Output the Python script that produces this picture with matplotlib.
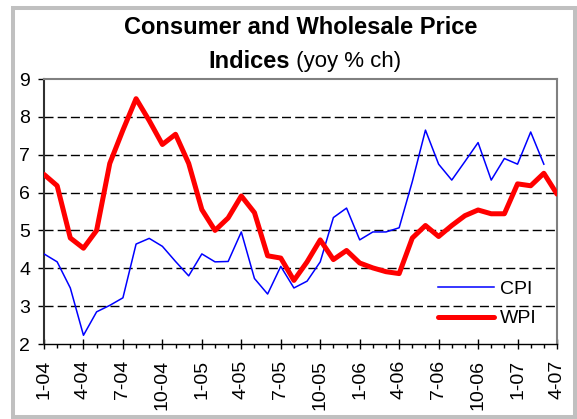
import numpy as np
import matplotlib
matplotlib.use('Agg')
import matplotlib.pyplot as plt
from matplotlib.patches import Rectangle

plt.rcParams['font.family'] = ['Liberation Sans', 'DejaVu Sans']

# monthly yoy % change, Jan 2004 onward
wpi = [6.48, 6.18, 4.80, 4.53, 5.00, 6.77, 7.65, 8.48, 7.90, 7.27,
       7.54, 6.77, 5.55, 5.00, 5.33, 5.91, 5.47, 4.33, 4.27, 3.68,
       4.17, 4.75, 4.23, 4.47, 4.14, 4.01, 3.91, 3.86, 4.80, 5.13,
       4.84, 5.13, 5.39, 5.54, 5.44, 5.44, 6.23, 6.18, 6.51, 5.96]
cpi = [4.38, 4.17, 3.48, 2.23, 2.85, 3.02, 3.22, 4.64, 4.79, 4.58,
       4.18, 3.80, 4.38, 4.17, 4.18, 4.96, 3.73, 3.32, 4.05, 3.48,
       3.66, 4.17, 5.34, 5.59, 4.75, 4.96, 4.96, 5.07, 6.29, 7.65,
       6.75, 6.33, 6.82, 7.32, 6.33, 6.90, 6.75, 7.60, 6.75]
tick_labels = ['1-04', '4-04', '7-04', '10-04', '1-05', '4-05', '7-05',
               '10-05', '1-06', '4-06', '7-06', '10-06', '1-07', '4-07']
yticks = [2, 3, 4, 5, 6, 7, 8, 9]

fig = plt.figure(figsize=(5.77, 4.19), dpi=100)
ax = fig.add_axes([44/577, 75/419, 513/577, 265/419])

# grey outer frame
fig.patches.append(Rectangle((13/577, 2/419), 562/577, 409/419,
                             transform=fig.transFigure, fill=False,
                             edgecolor='#c0c0c0', lw=2.9))

x_w = np.arange(len(wpi))
x_c = np.arange(len(cpi))

ax.hlines(yticks[1:-1], 0, len(wpi) - 1, colors='black', lw=1,
          linestyles=(0, (6.5, 3)), zorder=1)
ax.plot(x_c, cpi, color='#0000ff', lw=1.1, label='CPI', zorder=3)
ax.plot(x_w, wpi, color='#ff0000', lw=3.6, label='WPI', zorder=3,
        solid_joinstyle='round', solid_capstyle='round')

ax.set_xlim(0, len(wpi) - 1)
ax.set_ylim(yticks[0], yticks[-1])
ax.set_yticks(yticks)
ax.set_xticks(np.arange(0, len(wpi), 3))
ax.set_xticks(np.arange(len(wpi)), minor=True)
ax.set_xticklabels(tick_labels, rotation=90, va='top')

ax.tick_params(axis='y', direction='out', length=4, width=1, pad=6,
               labelsize=14)
ax.tick_params(axis='x', which='major', direction='inout', length=7,
               width=1, pad=8, labelsize=14)
ax.tick_params(axis='x', which='minor', direction='out', length=3, width=1)

for s in ['top', 'right']:
    ax.spines[s].set_color('#808080')
    ax.spines[s].set_linewidth(1.5)
ax.spines['left'].set_color('#303030')
ax.spines['left'].set_linewidth(1.5)
ax.spines['bottom'].set_color('black')
ax.spines['bottom'].set_linewidth(1)

ax.legend(loc='center left', bbox_to_anchor=(438/577, 1 - 304/419),
          bbox_transform=fig.transFigure, frameon=False, fontsize=14,
          handlelength=2.9, handletextpad=0.3, labelspacing=0.6,
          borderpad=0, borderaxespad=0)

# two-line title, second line partly bold
fig.text(301/577, 1 - 28/419, 'Consumer and Wholesale Price',
         ha='center', va='center', fontsize=17, fontweight='bold')
t2 = fig.text(208/577, 1 - 61/419, 'Indices', ha='left', va='center',
              fontsize=17, fontweight='bold')
ax.annotate(' (yoy % ch)', xy=(1, 0.5), xycoords=t2, va='center',
            ha='left', fontsize=16, annotation_clip=False)

fig.savefig('out.png', dpi=100)
